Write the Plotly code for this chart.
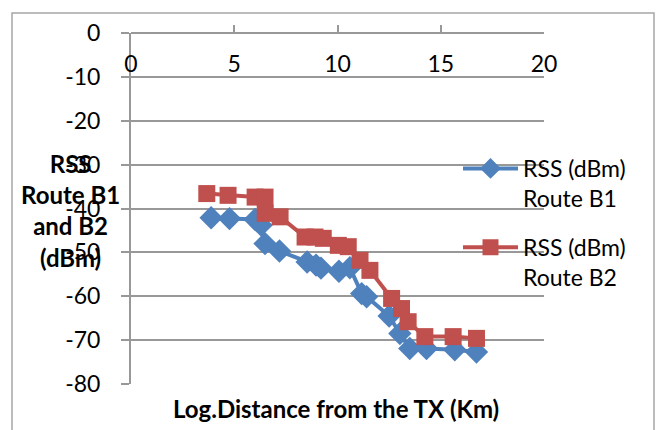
import plotly.graph_objects as go

# Route B1 (blue diamonds)
b1_x = [3.88, 4.77, 6.01, 6.30, 6.49, 7.19, 8.53, 8.96, 9.20, 10.07, 10.60, 11.17, 11.41, 12.50, 13.02, 13.50, 14.31, 15.68, 16.73]
b1_y = [-42.1, -42.3, -42.5, -43.8, -48.0, -49.7, -52.2, -52.9, -53.6, -54.3, -53.5, -59.4, -60.1, -64.5, -68.5, -71.9, -71.9, -72.2, -72.7]

# Route B2 (red squares)
b2_x = [3.67, 4.70, 6.01, 6.49, 6.50, 7.22, 8.43, 8.91, 9.31, 10.04, 10.52, 11.09, 11.57, 12.62, 13.10, 13.42, 14.23, 15.60, 16.73]
b2_y = [-36.6, -37.0, -37.4, -37.4, -41.1, -41.9, -46.5, -46.5, -46.8, -48.4, -48.7, -51.8, -54.1, -60.5, -62.8, -65.8, -69.2, -69.2, -69.6]

x_ticks = [0, 5, 10, 15, 20]
y_ticks = [0, -10, -20, -30, -40, -50, -60, -70, -80]

BLUE = "#4F81BD"
RED = "#C0504D"
GRID = "#989898"
FONT = "Lato"

W, H = 663, 430
L, R, T, B = 131, 119, 33, 46
pw, ph = W - L - R, H - T - B

def px2x(p):
    return (p - L) / pw

def px2y(p):
    return (H - B - p) / ph

fig = go.Figure()
fig.add_trace(go.Scatter(
    x=b1_x, y=b1_y, mode="lines+markers",
    name="RSS (dBm)<br>Route B1", legendgroup="b1",
    line=dict(color=BLUE, width=4),
    marker=dict(symbol="diamond", size=18, color=BLUE),
))
fig.add_trace(go.Scatter(
    x=b2_x, y=b2_y, mode="lines+markers",
    name="RSS (dBm)<br>Route B2", legendgroup="b2",
    line=dict(color=RED, width=4),
    marker=dict(symbol="square", size=17, color=RED),
))

fig.update_layout(
    width=W, height=H,
    margin=dict(l=L, r=R, t=T, b=B, pad=0),
    paper_bgcolor="white", plot_bgcolor="white",
    font=dict(family=FONT, size=22, color="#000000"),
    showlegend=True,
    legend=dict(
        x=px2x(458), y=px2y(147), xanchor="left", yanchor="top",
        itemwidth=55, tracegroupgap=16, valign="top",
        font=dict(family=FONT, size=23, color="#000000"),
        bgcolor="rgba(0,0,0,0)",
    ),
    xaxis=dict(
        range=[0, 20], tickvals=x_ticks, ticktext=[str(v) for v in x_ticks],
        anchor="free", position=1, side="bottom",
        showgrid=False, zeroline=False,
        showline=True, linecolor=GRID, linewidth=2,
        ticks="inside", ticklen=7, tickcolor=GRID, tickwidth=2,
        ticklabelstandoff=10,
        tickfont=dict(family=FONT, size=23, color="#000000"),
    ),
    yaxis=dict(
        range=[-80, 0], tickvals=y_ticks, ticktext=[str(v) for v in y_ticks],
        showgrid=True, gridcolor=GRID, gridwidth=2,
        zeroline=False,
        showline=True, linecolor=GRID, linewidth=2,
        ticks="outside", ticklen=8, tickcolor=GRID, tickwidth=2,
        ticklabelstandoff=16,
        tickfont=dict(family=FONT, size=23, color="#000000"),
    ),
    shapes=[dict(
        type="rect", xref="paper", yref="paper",
        x0=px2x(12), x1=px2x(654), y0=px2y(440), y1=px2y(13),
        line=dict(color="#A6A6A6", width=1.5), fillcolor="rgba(0,0,0,0)",
        layer="below",
    )],
    annotations=[
        dict(
            text="<b>RSS<br>Route B1<br>and B2<br>(dBm)</b>",
            xref="paper", yref="paper", x=px2x(70), y=px2y(210),
            xanchor="center", yanchor="middle", align="center",
            showarrow=False, font=dict(family=FONT, size=24, color="#000000"),
        ),
        dict(
            text="<b>Log.Distance from the TX (Km)</b>",
            xref="paper", yref="paper", x=px2x(336), y=px2y(408),
            xanchor="center", yanchor="middle",
            showarrow=False, font=dict(family=FONT, size=24, color="#000000"),
        ),
    ],
)

fig.write_html("out.html")
